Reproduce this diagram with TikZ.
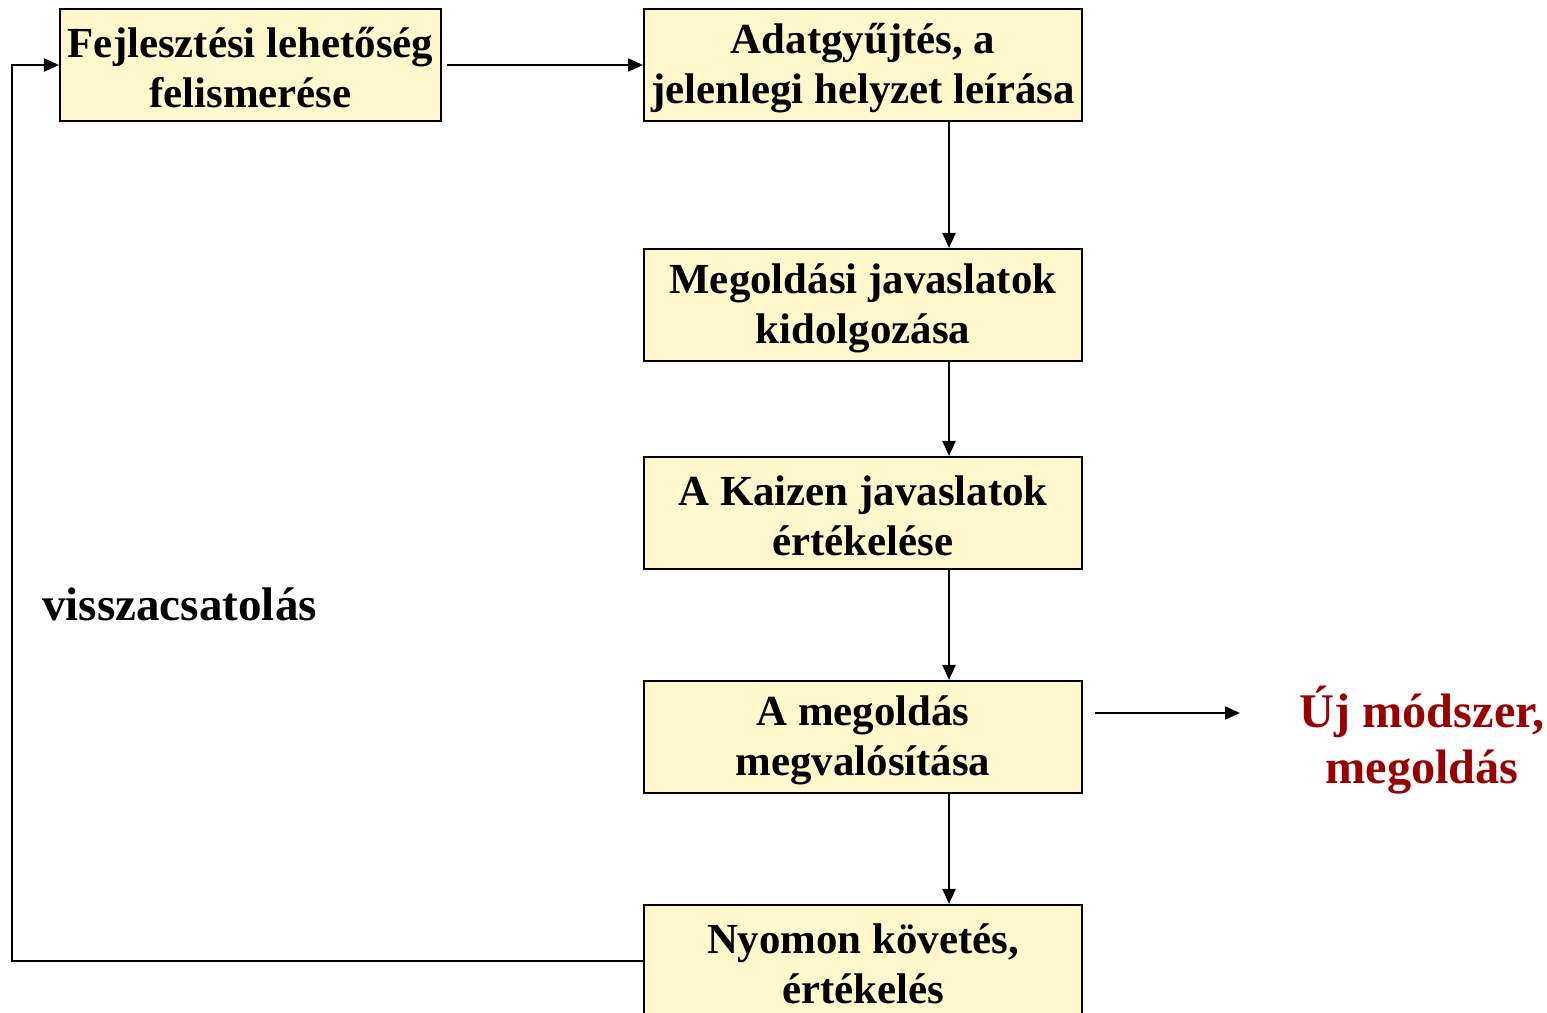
\documentclass[tikz,border=0pt]{standalone}
\usepackage{fontspec}
\setmainfont{Liberation Serif}
\usetikzlibrary{arrows.meta}
\definecolor{boxfill}{HTML}{FFF8CC}
\definecolor{darkred}{HTML}{990000}
\newcommand{\lead}{\rule{0pt}{20.5pt}}
\begin{document}
\begin{tikzpicture}[x=0.02cm,y=-0.02cm,
  stepbox/.style={draw=black, line width=1.2pt, fill=boxfill, minimum height=2.24cm,
    inner sep=0pt, align=center, font=\fontsize{24.4pt}{28.5pt}\selectfont\bfseries},
  conn/.style={line width=1.1pt, -{Triangle[length=0.3cm,width=0.26cm]}},
  lbl/.style={align=center, font=\fontsize{27.5pt}{32pt}\selectfont\bfseries}]
\useasboundingbox (0,0) rectangle (1547,1012);
% process steps
\node[stepbox, minimum width=7.62cm] (b1) at (250.5,65) {\lead Fejlesztési lehetőség\\felismerése};
\node[stepbox, minimum width=8.76cm] (b2) at (863,65) {\lead Adatgyűjtés, a\\jelenlegi helyzet leírása};
\node[stepbox, minimum width=8.76cm] (b3) at (863,305) {\lead Megoldási javaslatok\\kidolgozása};
\node[stepbox, minimum width=8.76cm] (b4) at (863,513) {\lead A Kaizen javaslatok\\értékelése};
\node[stepbox, minimum width=8.76cm] (b5) at (863,737) {\lead A megoldás\\megvalósítása};
\node[stepbox, minimum width=8.76cm] (b6) at (863,961) {\lead Nyomon követés,\\értékelés};
% labels
\node[lbl, anchor=west, font=\fontsize{26.8pt}{32pt}\selectfont\bfseries] (fbl) at (36,604) {visszacsatolás};
\node[lbl, text=darkred] (res) at (1422,740) {Új módszer,\\megoldás};
% helper coordinates
\coordinate (vx) at (949,0);
\coordinate (fx) at (12,0);
\coordinate (o1) at (1095,713);
\coordinate (o2) at (1240,713);
% connectors
\draw[conn] ([xshift=3]b1.east) -- (b2.west);
\draw[conn] (b2.south -| vx) -- (b3.north -| vx);
\draw[conn] (b3.south -| vx) -- (b4.north -| vx);
\draw[conn] (b4.south -| vx) -- (b5.north -| vx);
\draw[conn] (b5.south -| vx) -- (b6.north -| vx);
\draw[conn] (o1) -- (o2);
\draw[conn] (b6.west) -- (b6.west -| fx) |- (b1.west);
\end{tikzpicture}
\end{document}
